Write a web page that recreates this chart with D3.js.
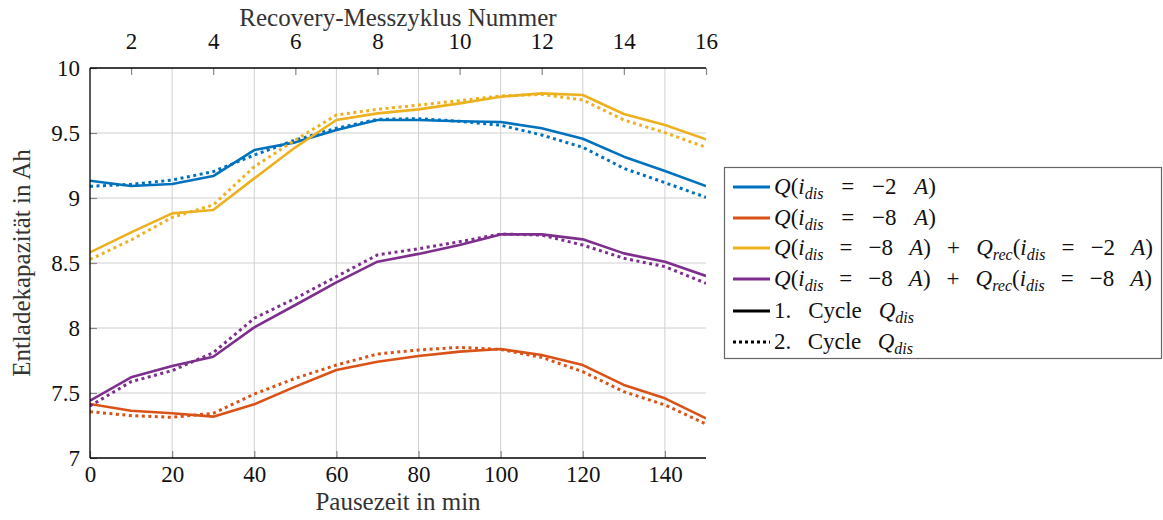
<!DOCTYPE html>
<html><head><meta charset="utf-8">
<script src="https://cdn.jsdelivr.net/npm/d3@7"></script>
<style>body{margin:0;background:#fff}svg{display:block}</style>
</head><body><svg id="c" width="1163" height="520"></svg>
<script>
const pauseTimes = [0,10,20,30,40,50,60,70,80,90,100,110,120,130,140,150];
const blue1   = [9.133,9.092,9.108,9.169,9.369,9.428,9.523,9.600,9.600,9.590,9.585,9.536,9.456,9.318,9.208,9.092];
const blue2   = [9.090,9.105,9.138,9.203,9.330,9.446,9.536,9.605,9.610,9.590,9.560,9.485,9.390,9.228,9.118,9.005];
const orange1 = [7.415,7.364,7.344,7.318,7.413,7.549,7.677,7.741,7.785,7.818,7.838,7.792,7.715,7.562,7.459,7.305];
const orange2 = [7.356,7.326,7.313,7.344,7.492,7.613,7.715,7.800,7.831,7.851,7.835,7.774,7.664,7.510,7.408,7.262];
const yellow1 = [8.582,8.736,8.882,8.908,9.151,9.390,9.600,9.651,9.682,9.728,9.779,9.805,9.792,9.646,9.562,9.451];
const yellow2 = [8.528,8.677,8.851,8.946,9.241,9.446,9.638,9.682,9.715,9.749,9.785,9.797,9.754,9.600,9.503,9.390];
const purple1 = [7.441,7.621,7.708,7.779,8.005,8.177,8.351,8.510,8.570,8.638,8.720,8.720,8.682,8.574,8.510,8.400];
const purple2 = [7.400,7.587,7.672,7.810,8.075,8.228,8.395,8.562,8.610,8.664,8.723,8.715,8.638,8.536,8.472,8.344];
const xTicks = [0,20,40,60,80,100,120,140];
const yTicks = [7,7.5,8,8.5,9,9.5,10];
const topTicks = [2,4,6,8,10,12,14,16];
const colors = {blue:"#0072BD",orange:"#D95319",yellow:"#EDB120",purple:"#7E2F8E"};
const series = [
  {c:colors.blue,s:blue1,d:blue2},
  {c:colors.orange,s:orange1,d:orange2},
  {c:colors.yellow,s:yellow1,d:yellow2},
  {c:colors.purple,s:purple1,d:purple2}
];

const FONT="'Liberation Serif', 'DejaVu Serif', serif";
const setF=sel=>sel.style("font-family",FONT,"important");
const L=90,R=706,T=68,B=458;
const svg=d3.select("#c");
const x=d3.scaleLinear().domain([0,150]).range([L,R]);
const xTop=d3.scaleLinear().domain([1,16]).range([L,R]);
const y=d3.scaleLinear().domain([7,10]).range([B,T]);

// grid
const g=svg.append("g");
g.selectAll(".gx").data(xTicks.slice(1)).join("line")
 .attr("x1",d=>x(d)).attr("x2",d=>x(d)).attr("y1",T).attr("y2",B)
 .attr("stroke","#d0d0d0").attr("stroke-width",1);
g.selectAll(".gy").data(yTicks.slice(1,-1)).join("line")
 .attr("x1",L).attr("x2",R).attr("y1",d=>y(d)).attr("y2",d=>y(d))
 .attr("stroke","#d0d0d0").attr("stroke-width",1);

// axes
const fmt=d=>String(d);
const ax=(sel)=>{sel.attr("font-family",null).attr("font-size",null);sel.select(".domain").remove();sel.selectAll(".tick line").attr("stroke","#888").attr("stroke-width",1.2);sel.selectAll("text").attr("fill","#111").attr("font-size",23).call(setF);};
svg.append("g").attr("transform",`translate(0,${B})`)
 .call(d3.axisBottom(x).tickValues(xTicks).tickFormat(fmt).tickSizeInner(-7).tickPadding(8)).call(ax);
svg.append("g").attr("transform",`translate(${L},0)`)
 .call(d3.axisLeft(y).tickValues(yTicks).tickFormat(fmt).tickSizeInner(-7).tickPadding(10)).call(ax);
svg.append("g").attr("transform",`translate(0,${T})`)
 .call(d3.axisTop(xTop).tickValues(topTicks).tickFormat(fmt).tickSizeInner(-7).tickPadding(19)).call(ax);

// lines
const line=d3.line().x((d,i)=>x(pauseTimes[i])).y(d=>y(d));
svg.append("clipPath").attr("id","cp").append("rect").attr("x",L).attr("y",T-3).attr("width",R-L).attr("height",B-T+3);
const lg=svg.append("g").attr("clip-path","url(#cp)");
series.forEach(o=>{
  lg.append("path").attr("d",line(o.d)).attr("fill","none").attr("stroke",o.c).attr("stroke-width",3).attr("stroke-dasharray","3,3.5");
  lg.append("path").attr("d",line(o.s)).attr("fill","none").attr("stroke",o.c).attr("stroke-width",2.6).attr("stroke-linejoin","round");
});

// frame lines
svg.append("line").attr("x1",L).attr("x2",L).attr("y1",T).attr("y2",B).attr("stroke","#000").attr("stroke-width",1.3);
svg.append("line").attr("x1",L).attr("x2",R).attr("y1",B).attr("y2",B).attr("stroke","#000").attr("stroke-width",1.3);
svg.append("line").attr("x1",L).attr("x2",R).attr("y1",T).attr("y2",T).attr("stroke","#000").attr("stroke-width",1.3);

// titles
svg.append("text").attr("x",(L+R)/2).attr("y",26).attr("text-anchor","middle").attr("font-size",25).attr("fill","#333").call(setF).text("Recovery-Messzyklus Nummer");
svg.append("text").attr("x",(L+R)/2).attr("y",510).attr("text-anchor","middle").attr("font-size",25).attr("fill","#333").call(setF).text("Pausezeit in min");
svg.append("text").attr("transform",`translate(30,${(T+B)/2}) rotate(-90)`).attr("text-anchor","middle").attr("font-size",25).attr("fill","#333").call(setF).text("Entladekapazität in Ah");

// legend
const leg=svg.append("g");
leg.append("rect").attr("x",724.5).attr("y",167.5).attr("width",437).attr("height",191).attr("fill","#fff").attr("stroke","#666").attr("stroke-width",1.2);
const S=[" ","sp"];
const legItems=[
  {c:colors.blue,dash:null,w:162,t:[["Q","i"],["(",""],["i","i"],["dis","sub"],S,["=",""],S,["−2",""],S,["A","i"],[")",""]]},
  {c:colors.orange,dash:null,w:162,t:[["Q","i"],["(",""],["i","i"],["dis","sub"],S,["=",""],S,["−8",""],S,["A","i"],[")",""]]},
  {c:colors.yellow,dash:null,w:379,t:[["Q","i"],["(",""],["i","i"],["dis","sub"],S,["=",""],S,["−8",""],S,["A","i"],[")",""],S,["+",""],S,["Q","i"],["rec","sub"],["(",""],["i","i"],["dis","sub"],S,["=",""],S,["−2",""],S,["A","i"],[")",""]]},
  {c:colors.purple,dash:null,w:378,t:[["Q","i"],["(",""],["i","i"],["dis","sub"],S,["=",""],S,["−8",""],S,["A","i"],[")",""],S,["+",""],S,["Q","i"],["rec","sub"],["(",""],["i","i"],["dis","sub"],S,["=",""],S,["−8",""],S,["A","i"],[")",""]]},
  {c:"#000",dash:null,w:140,t:[["1.",""],S,["Cycle",""],S,["Q","i"],["dis","sub"]]},
  {c:"#000",dash:"3,3",w:139,t:[["2.",""],S,["Cycle",""],S,["Q","i"],["dis","sub"]]}
];
const rowY=[187,218,248,279,311,342];
legItems.forEach((it,k)=>{
  const yy=rowY[k];
  leg.append("line").attr("x1",733).attr("x2",770).attr("y1",yy).attr("y2",yy).attr("stroke",it.c).attr("stroke-width",it.dash?3:2.8).attr("stroke-dasharray",it.dash);
  const tx=leg.append("text").attr("x",774).attr("y",yy+7).attr("font-size",23).attr("fill","#111").call(setF);
  let prevSub=false;
  const spaces=[];
  it.t.forEach(([s,st])=>{
    const sp=tx.append("tspan").call(setF).text(s);
    if(st==="i"||st==="sub") sp.attr("font-style","italic");
    if(st==="sub"){sp.attr("font-size",16).attr("dy",5);prevSub=true;}
    else if(prevSub){sp.attr("dy",-5);prevSub=false;}
    if(st==="sp") spaces.push(sp);
  });
  const len=tx.node().getComputedTextLength();
  const extra=(it.w-len)/Math.max(1,spaces.length);
  spaces.forEach(sp=>sp.attr("dx",extra));
});
</script></body></html>
